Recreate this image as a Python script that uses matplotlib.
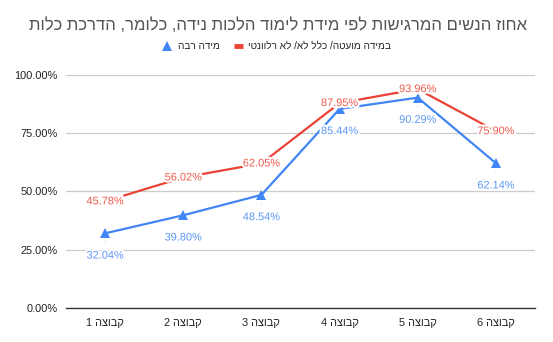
import matplotlib
matplotlib.use("Agg")
import matplotlib.pyplot as plt
import matplotlib.patheffects as pe
from matplotlib.lines import Line2D
from matplotlib.ticker import FuncFormatter, FixedLocator

plt.rcParams['font.family'] = ['Liberation Sans', 'DejaVu Sans']

def vis(s):
    # simple visual reordering for RTL Hebrew text
    return s[::-1]

title = "אחוז הנשים המרגישות לפי מידת לימוד הלכות נידה, כלומר, הדרכת כלות"
categories = ["קבוצה 1", "קבוצה 2", "קבוצה 3", "קבוצה 4", "קבוצה 5", "קבוצה 6"]
series_blue_name = "מידה רבה"
series_red_name = "במידה מועטה/ כלל לא/ לא רלוונטי"
blue_values = [32.04, 39.80, 48.54, 85.44, 90.29, 62.14]
red_values = [45.78, 56.02, 62.05, 87.95, 93.96, 75.90]
yticks = [0, 25, 50, 75, 100]

def cat_label(s):
    word, num = s.split(" ")
    return num + " " + word[::-1]

BLUE = "#4285F4"
RED = "#EA4335"
BLUE_TXT = "#5C97F5"
RED_TXT = "#EE5A4C"

fig = plt.figure(figsize=(5.53, 3.42), dpi=100)
ax = fig.add_axes([66/553, 1-308/342, 469/553, 233/342])

x = list(range(len(categories)))
lr, = ax.plot(x, red_values, color=RED, lw=1.6, zorder=3)
lb, = ax.plot(x, blue_values, color=BLUE, lw=1.6, marker="^", ms=7.5,
              markeredgewidth=0, zorder=4)

halo = [pe.withStroke(linewidth=3, foreground="white")]
for xi, v in zip(x, red_values):
    ax.text(xi, v, f"{v:.2f}%", color=RED_TXT, fontsize=7.9, ha="center",
            va="center", zorder=6, path_effects=halo)
for xi, v in zip(x, blue_values):
    ax.annotate(f"{v:.2f}%", xy=(xi, v), xytext=(0, -16), textcoords="offset points",
                color=BLUE_TXT, fontsize=7.9, ha="center", va="center", zorder=6,
                path_effects=halo,
                arrowprops=dict(arrowstyle="-", color="#d9d9d9", lw=0.8,
                                shrinkA=4, shrinkB=6))

ax.set_xlim(-0.5, len(categories) - 0.5)
ax.set_ylim(0, 100)
ax.yaxis.set_major_locator(FixedLocator(yticks))
ax.yaxis.set_major_formatter(FuncFormatter(lambda v, p: f"{v:.2f}%"))
ax.set_xticks(x)
ax.set_xticklabels([cat_label(c) for c in categories])
ax.tick_params(axis="both", length=0, labelsize=7.9, colors="#222222")
ax.tick_params(axis="y", pad=6)
ax.tick_params(axis="x", pad=7)
ax.grid(axis="y", color="#cccccc", lw=0.9)
ax.set_axisbelow(True)
for s in ["top", "right", "left"]:
    ax.spines[s].set_visible(False)
ax.spines["bottom"].set_color("#333333")
ax.spines["bottom"].set_linewidth(1.0)
ax.spines["bottom"].set_zorder(5)

fig.text(278/553, 1-25/342, vis(title), ha="center", va="center", fontsize=12,
         color="#555555")

h_blue = Line2D([], [], color=BLUE, marker="^", ms=7.5, markeredgewidth=0, lw=0)
h_red = Line2D([], [], color=RED, lw=3.5, solid_capstyle="butt")
leg = fig.legend([h_blue, h_red], [vis(series_blue_name), vis(series_red_name)],
                 loc="center", bbox_to_anchor=(277/553, 1-46/342), ncol=2,
                 frameon=False, fontsize=7.2, markerfirst=True,
                 handlelength=0.9, columnspacing=1.4, handletextpad=0.6)
for t in leg.get_texts():
    t.set_color("#222222")

fig.savefig("out.png", dpi=100)
